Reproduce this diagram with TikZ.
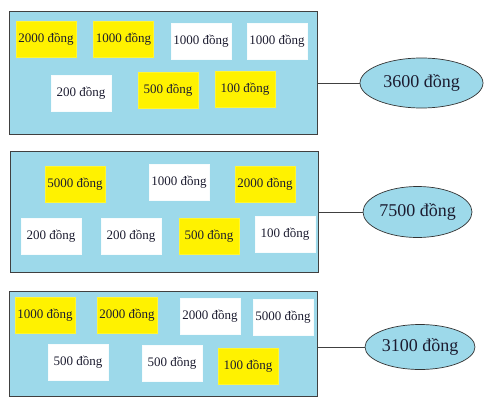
\documentclass[tikz,border=0pt]{standalone}
\usepackage{fontspec}
\setmainfont{Liberation Serif}
\usepackage{xcolor}
\usepackage{tikz}
\usetikzlibrary{shapes,positioning,calc}

\definecolor{panelblue}{RGB}{157,217,234}
\definecolor{billyellow}{RGB}{255,242,0}
\definecolor{inkcol}{RGB}{28,28,48}

\begin{document}
\begin{tikzpicture}[x=1pt,y=-1pt,
   panel/.style={draw=black!75,line width=0.9pt,fill=panelblue,rectangle,inner sep=0pt},
   bill/.style={fill=white,draw=white!92!panelblue,line width=0.4pt,rectangle,inner sep=0pt,
     minimum width=60pt,minimum height=36pt,text=inkcol,font=\fontsize{13}{15}\selectfont},
   ybill/.style={bill,fill=billyellow,draw=billyellow!80!white},
   total/.style={draw=black!80,line width=0.7pt,fill=panelblue,ellipse,inner sep=0pt,
     text=inkcol,font=\fontsize{18}{21}\selectfont}]
 \useasboundingbox (0,0) rectangle (485,407);
 % three panels of notes (explicit coordinates, pixel grid)
 \node[panel,minimum width=308pt,minimum height=123pt] (p1) at (163,72.5) {};
 \node[panel,minimum width=308pt,minimum height=121pt] (p2) at (164,211.5) {};
 \node[panel,minimum width=308pt,minimum height=105pt] (p3) at (163,343.5) {};
 % panel 1
 \node[ybill] (a1) at (46,39)    {2000 đồng};
 \node[ybill] (a2) at (123.5,39) {1000 đồng};
 \node[bill]  (a3) at (201,41)   {1000 đồng};
 \node[bill]  (a4) at (277,41)   {1000 đồng};
 \node[bill]  (a5) at (81,93)    {200 đồng};
 \node[ybill] (a6) at (168,90)   {500 đồng};
 \node[ybill] (a7) at (245,89)   {100 đồng};
 % panel 2
 \node[ybill] (b1) at (75,184)    {5000 đồng};
 \node[bill]  (b2) at (179,182.5) {1000 đồng};
 \node[ybill] (b3) at (265,184)   {2000 đồng};
 \node[bill]  (b4) at (51,236)    {200 đồng};
 \node[bill]  (b5) at (131,236)   {200 đồng};
 \node[ybill] (b6) at (209,236.5) {500 đồng};
 \node[bill]  (b7) at (285,234.5) {100 đồng};
 % panel 3
 \node[ybill] (c1) at (45,315)    {1000 đồng};
 \node[ybill] (c2) at (127,315)   {2000 đồng};
 \node[bill]  (c3) at (210,316.5) {2000 đồng};
 \node[bill]  (c4) at (283,317.5) {5000 đồng};
 \node[bill]  (c5) at (78,362.5)  {500 đồng};
 \node[bill]  (c6) at (172,363.5) {500 đồng};
 \node[ybill] (c7) at (248,366)   {100 đồng};
 % totals
 \node[total,minimum width=123pt,minimum height=50pt] (e1) at (421.5,83) {3600 đồng};
 \node[total,minimum width=109pt,minimum height=51pt] (e2) at (417.5,212) {7500 đồng};
 \node[total,minimum width=110pt,minimum height=45pt] (e3) at (420,347) {3100 đồng};
 % links panel -> total
 \draw[black!75,line width=0.8pt] (p1.east |- e1.west) -- (e1.west);
 \draw[black!75,line width=0.8pt] (p2.east |- e2.west) -- (e2.west);
 \draw[black!75,line width=0.8pt] (p3.east |- e3.west) -- (e3.west);
\end{tikzpicture}
\end{document}
